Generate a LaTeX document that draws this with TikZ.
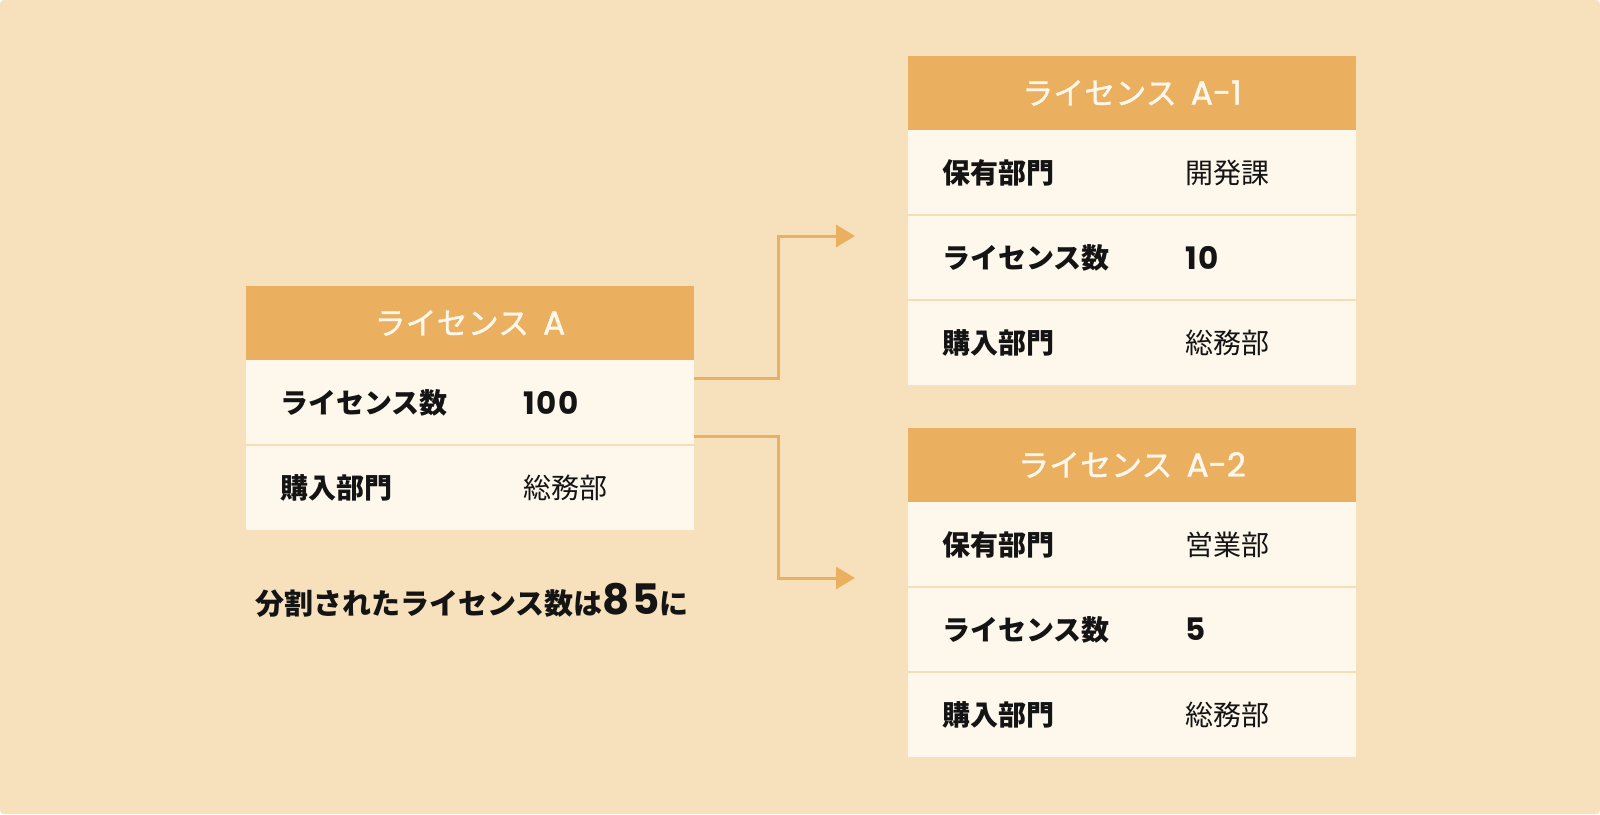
\documentclass[tikz,border=0pt]{standalone}
\usepackage{fontspec}
\setmainfont{Noto Sans CJK JP}
\newfontfamily\jpmed{Noto Sans CJK JP}[FakeBold=1.2]
\newfontfamily\geo{Poppins}[FakeBold=1.4]
\newfontfamily\geonum{Poppins}[LetterSpace=6]
\usetikzlibrary{positioning,arrows.meta}
\definecolor{cbg}{HTML}{F7E1BC}
\definecolor{chead}{HTML}{EBAF60}
\definecolor{ccell}{HTML}{FDF7EC}
\definecolor{cline}{HTML}{F4DEB2}
\definecolor{cink}{HTML}{141414}
\tikzset{
  hdr/.style={fill=chead, text=ccell, minimum width=448pt, minimum height=74pt, outer sep=0pt, inner sep=0pt, font=\jpmed\fontsize{31}{34}\selectfont},
  cell/.style={fill=ccell, minimum width=448pt, minimum height=85pt, outer sep=0pt, inner sep=0pt},
  lbl/.style={text=cink, inner sep=0pt, font=\bfseries\fontsize{28}{32}\selectfont},
  val/.style={text=cink, inner sep=0pt, font=\fontsize{28}{32}\selectfont},
  num/.style={text=cink, inner sep=0pt, font=\geonum\bfseries\fontsize{31}{32}\selectfont},
  divline/.style={draw=cline, line width=1.5pt},
  flow/.style={draw=chead, line width=3pt, -{Triangle[length=19pt,width=22pt]}},
}
\newcommand{\lat}[1]{\hspace{14pt}{\geo\fontsize{33}{34}\selectfont #1}}
\begin{document}
\begin{tikzpicture}[x=1pt,y=-1pt]
  \fill[white] (0,0) rectangle (1600,814);
  \fill[cbg, rounded corners=4pt] (0,0) rectangle (1600,814);
  \useasboundingbox (0,0) rectangle (1600,814);
  % table A
  \node[hdr] (ah) at (470,323) {ライセンス\lat{A}};
  \node[cell, below=0pt of ah] (ar1) {};
  \node[cell, below=0pt of ar1] (ar2) {};
  \draw[divline] (ar1.south west) -- (ar1.south east);
  \node[lbl, right=34pt of ar1.west] (al1) {ライセンス数};
  \node[num, right=277pt of ar1.west] (av1) {100};
  \node[lbl, right=34pt of ar2.west] (al2) {購入部門};
  \node[val, right=277pt of ar2.west] (av2) {総務部};
  \node[font=\bfseries\fontsize{29}{32}\selectfont, text=cink, inner sep=0pt] (note) at (472,600)
    {分割されたライセンス数は{\geonum\fontsize{42}{44}\selectfont 85}に};
  % table A-1
  \node[hdr] (bh) at (1132,93) {ライセンス\lat{A-1}};
  \node[cell, below=0pt of bh] (br1) {};
  \node[cell, below=0pt of br1] (br2) {};
  \node[cell, below=0pt of br2] (br3) {};
  \draw[divline] (br1.south west) -- (br1.south east);
  \draw[divline] (br2.south west) -- (br2.south east);
  \node[lbl, right=34pt of br1.west] (bl1) {保有部門};
  \node[val, right=277pt of br1.west] (bv1) {開発課};
  \node[lbl, right=34pt of br2.west] (bl2) {ライセンス数};
  \node[num, right=277pt of br2.west] (bv2) {10};
  \node[lbl, right=34pt of br3.west] (bl3) {購入部門};
  \node[val, right=277pt of br3.west] (bv3) {総務部};
  % table A-2
  \node[hdr] (ch) at (1132,465) {ライセンス\lat{A-2}};
  \node[cell, below=0pt of ch] (cr1) {};
  \node[cell, below=0pt of cr1] (cr2) {};
  \node[cell, below=0pt of cr2] (cr3) {};
  \draw[divline] (cr1.south west) -- (cr1.south east);
  \draw[divline] (cr2.south west) -- (cr2.south east);
  \node[lbl, right=34pt of cr1.west] (cl1) {保有部門};
  \node[val, right=277pt of cr1.west] (cv1) {営業部};
  \node[lbl, right=34pt of cr2.west] (cl2) {ライセンス数};
  \node[num, right=277pt of cr2.west] (cv2) {5};
  \node[lbl, right=34pt of cr3.west] (cl3) {購入部門};
  \node[val, right=277pt of cr3.west] (cv3) {総務部};
  % split arrows
  \coordinate (t1) at (855,236);
  \coordinate (t2) at (855,578);
  \draw[flow] ([yshift=24.5pt]ar1.east) -- ++(84,0) |- (t1);
  \draw[flow] ([yshift=-33.5pt]ar1.east) -- ++(84,0) |- (t2);
\end{tikzpicture}
\end{document}
